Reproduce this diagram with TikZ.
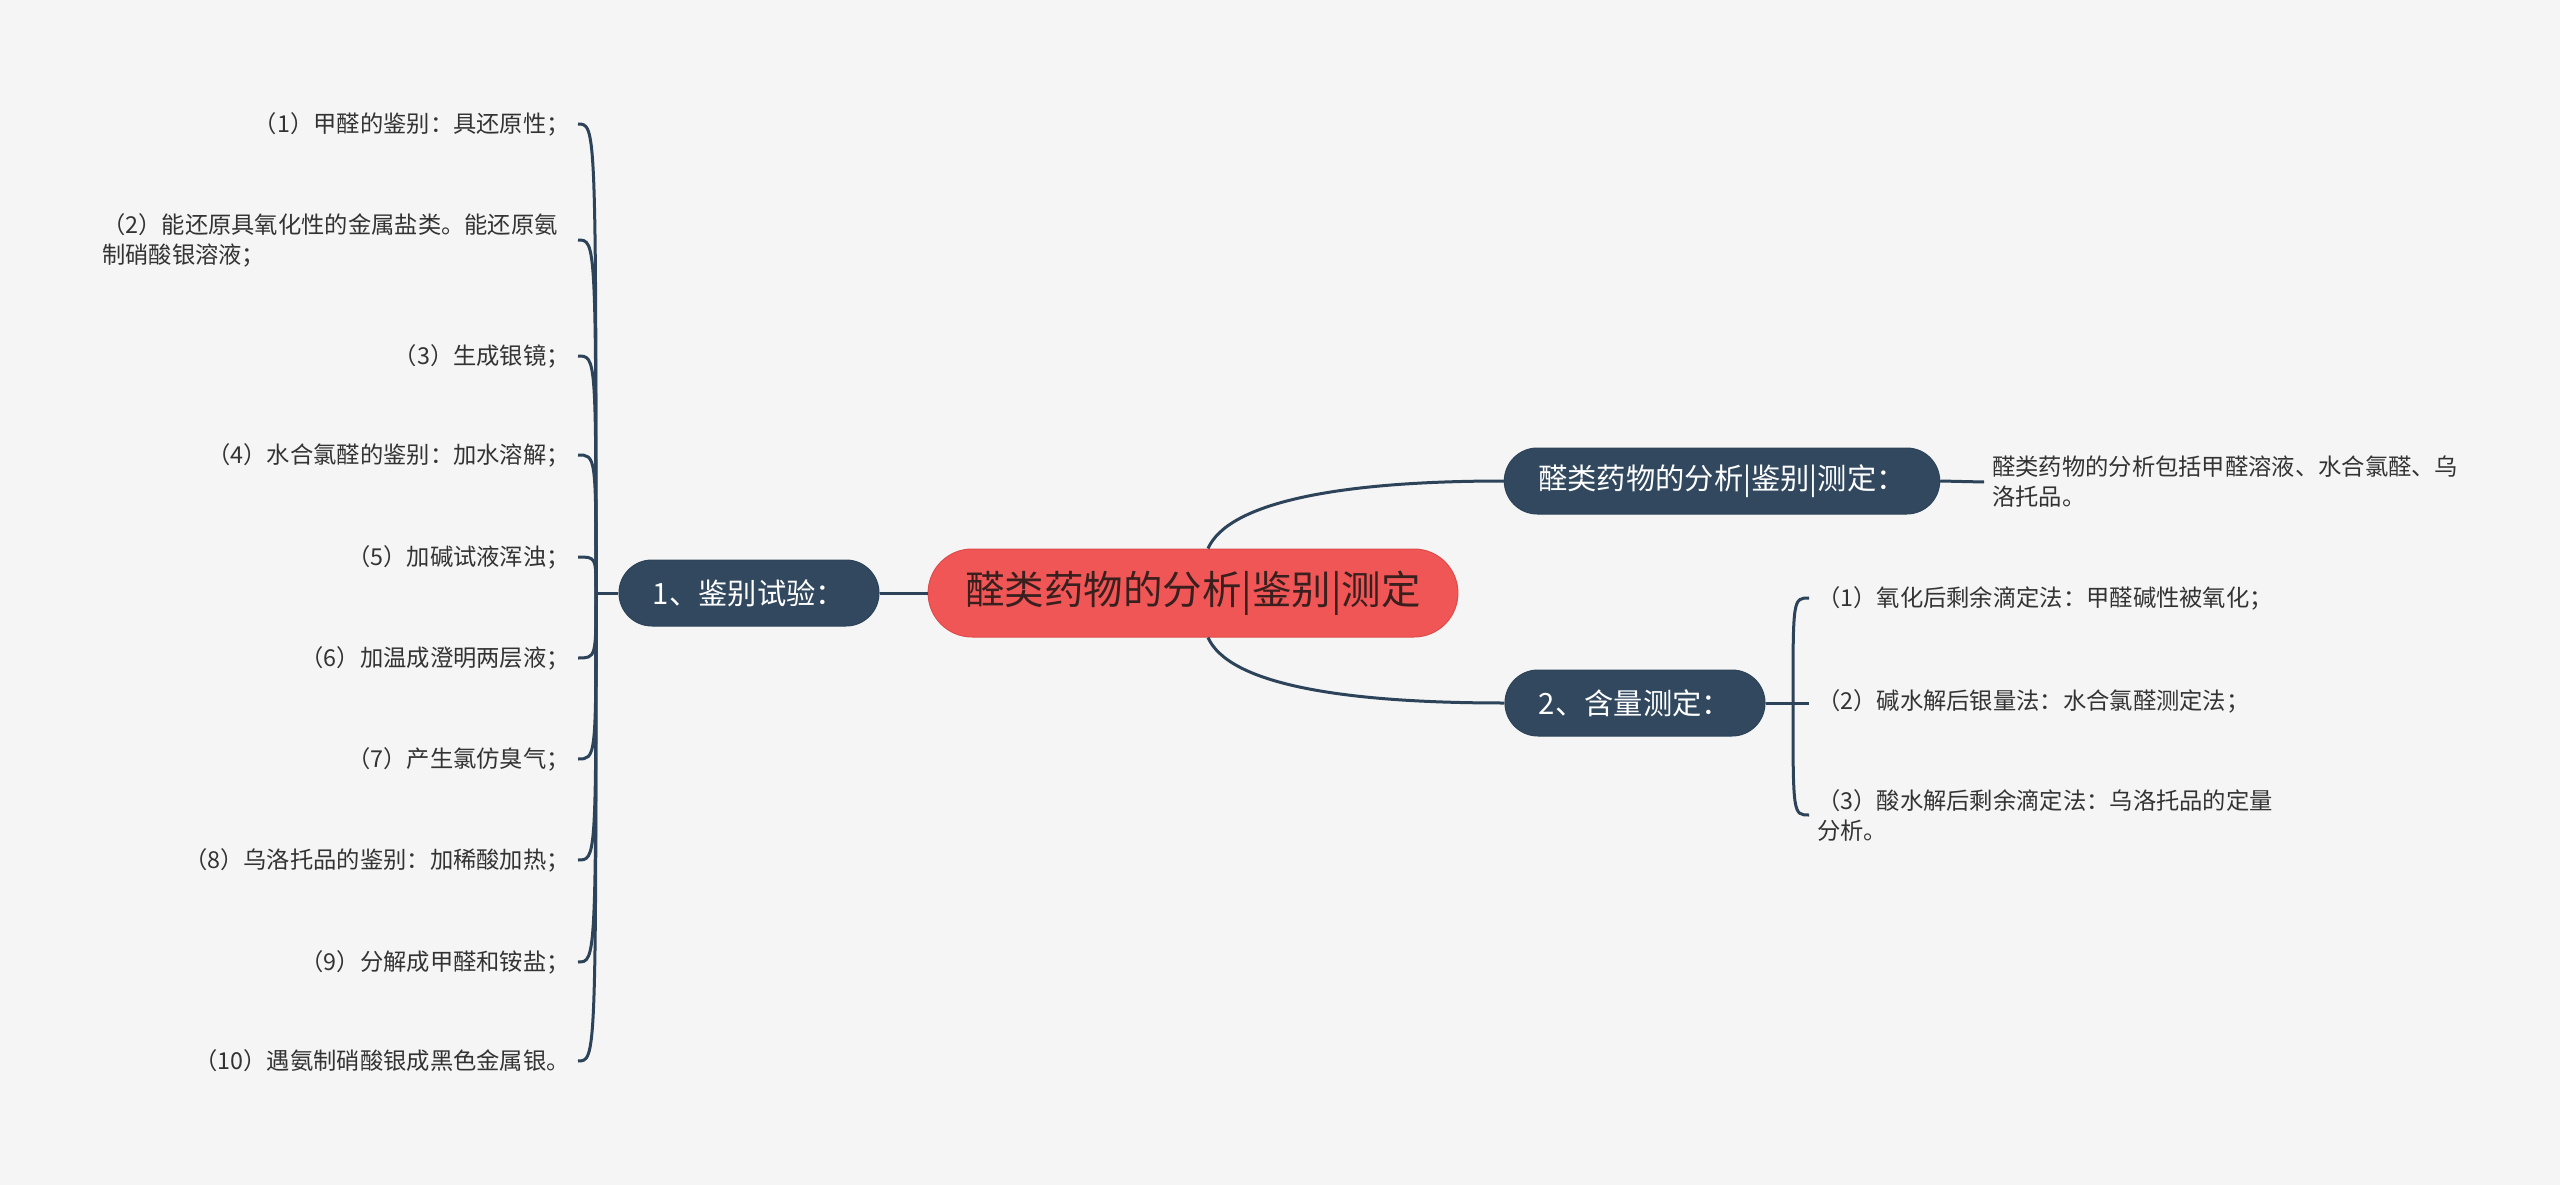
\documentclass[tikz,border=0pt]{standalone}
\usepackage{fontspec}
\setmainfont{Noto Sans CJK SC}

\definecolor{bgcol}{HTML}{F5F5F5}
\definecolor{linecol}{HTML}{2D4359}
\definecolor{branchcol}{HTML}{31485F}
\definecolor{topiccol}{HTML}{F05656}
\definecolor{topicline}{HTML}{E04A4A}
\definecolor{topictext}{HTML}{3A1F1F}
\definecolor{leafcol}{HTML}{333333}

\begin{document}
\begin{tikzpicture}[x=1pt,y=-1pt,
  link/.style={draw=linecol,line width=3pt},
  topic/.style={fill=topiccol,draw=topicline,line width=1pt,text=topictext,rounded corners=44pt,minimum height=88pt,inner xsep=37pt,font=\fontsize{39.5}{46}\selectfont},
  branch/.style={fill=branchcol,draw=linecol,line width=1pt,text=white,rounded corners=33pt,minimum height=66pt,inner xsep=34pt,font=\fontsize{29.3}{34}\selectfont},
  leafl/.style={anchor=east,align=left,inner xsep=8pt,text=leafcol,font=\fontsize{23.3}{30}\selectfont},
  leafr/.style={leafl,anchor=west}]
  \fill[bgcol] (0,0) rectangle (2560,1185);

  \node[topic] (root) at (1193,593) {醛类药物的分析|鉴别|测定};
  \node[branch] (jb) at (749,593) {1、鉴别试验：};
  \node[branch] (fx) at (1722,481) {醛类药物的分析|鉴别|测定：};
  \node[branch] (hl) at (1635,703) {2、含量测定：};

  \coordinate (j1) at (596,593);
  \coordinate (j2) at (1793,703);

  \node[leafl] (l1) at (578,124) {（1）甲醛的鉴别：具还原性；};
  \node[leafl,inner xsep=20pt] (l2) at (578,240) {（2）能还原具氧化性的金属盐类。能还原氨\\制硝酸银溶液；};
  \node[leafl] (l3) at (578,356) {（3）生成银镜；};
  \node[leafl] (l4) at (578,455) {（4）水合氯醛的鉴别：加水溶解；};
  \node[leafl] (l5) at (578,557) {（5）加碱试液浑浊；};
  \node[leafl] (l6) at (578,658) {（6）加温成澄明两层液；};
  \node[leafl] (l7) at (578,759) {（7）产生氯仿臭气；};
  \node[leafl] (l8) at (578,860) {（8）乌洛托品的鉴别：加稀酸加热；};
  \node[leafl] (l9) at (578,962) {（9）分解成甲醛和铵盐；};
  \node[leafl] (l10) at (578,1061) {（10）遇氨制硝酸银成黑色金属银。};

  \node[leafr] (f1) at (1984,482) {醛类药物的分析包括甲醛溶液、水合氯醛、乌\\洛托品。};

  \node[leafr] (r1) at (1809,598) {（1）氧化后剩余滴定法：甲醛碱性被氧化；};
  \node[leafr] (r2) at (1809,701) {（2）碱水解后银量法：水合氯醛测定法；};
  \node[leafr] (r3) at (1809,815) {（3）酸水解后剩余滴定法：乌洛托品的定量\\分析。};

  % main branches
  \draw[link] (root.west) -- (jb.east);
  \draw[link] ([xshift=15pt]root.north) .. controls +(20,-45) and +(-170,0) .. (fx.west);
  \draw[link] ([xshift=15pt]root.south) .. controls +(20,45) and +(-170,0) .. (hl.west);
  \draw[link] (fx.east) -- (f1.west);

  % left bracket
  \draw[link] (jb.west) -- (j1);
  \draw[link] (j1) .. controls (j1 |- l1.east) and (j1 |- l1.east) .. (l1.east);
  \draw[link] (j1) .. controls (j1 |- l2.east) and (j1 |- l2.east) .. (l2.east);
  \draw[link] (j1) .. controls (j1 |- l3.east) and (j1 |- l3.east) .. (l3.east);
  \draw[link] (j1) .. controls (j1 |- l4.east) and (j1 |- l4.east) .. (l4.east);
  \draw[link] (j1) .. controls (j1 |- l5.east) and (j1 |- l5.east) .. (l5.east);
  \draw[link] (j1) .. controls (j1 |- l6.east) and (j1 |- l6.east) .. (l6.east);
  \draw[link] (j1) .. controls (j1 |- l7.east) and (j1 |- l7.east) .. (l7.east);
  \draw[link] (j1) .. controls (j1 |- l8.east) and (j1 |- l8.east) .. (l8.east);
  \draw[link] (j1) .. controls (j1 |- l9.east) and (j1 |- l9.east) .. (l9.east);
  \draw[link] (j1) .. controls (j1 |- l10.east) and (j1 |- l10.east) .. (l10.east);

  % right bracket
  \draw[link] (hl.east) -- (j2);
  \draw[link] (j2) .. controls (j2 |- r1.west) and (j2 |- r1.west) .. (r1.west);
  \draw[link] (j2) -- (r2.west |- j2);
  \draw[link] (j2) .. controls (j2 |- r3.west) and (j2 |- r3.west) .. (r3.west);
\end{tikzpicture}
\end{document}
